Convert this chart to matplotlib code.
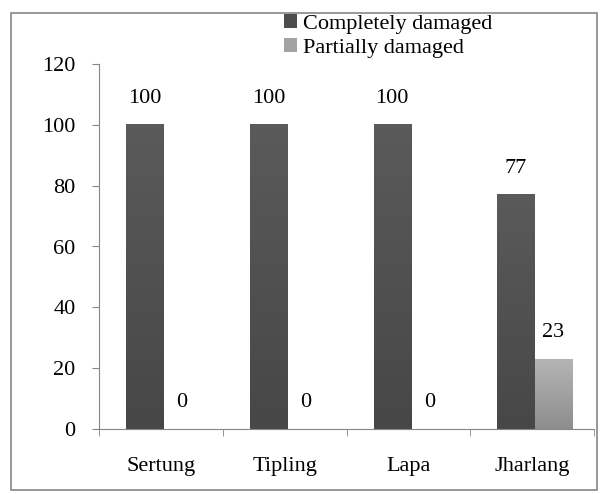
import numpy as np
import matplotlib.pyplot as plt
from matplotlib.patches import Rectangle

plt.rcParams['font.family'] = ['Liberation Serif', 'DejaVu Serif']

# data
villages = ["Sertung", "Tipling", "Lapa", "Jharlang"]
completely = [100, 100, 100, 77]
partially = [0, 0, 0, 23]
yticks = [0, 20, 40, 60, 80, 100, 120]

axis_grey = "#868686"
fs = 16

fig = plt.figure(figsize=(6.02, 4.94), dpi=100)
ax = fig.add_axes([99 / 602, 65 / 494, 495 / 602, 365 / 494])

x = np.arange(len(villages))
w = 0.3
b1 = ax.bar(x - w / 2 + 0.02, completely, w, color="#4d4d4d", label="Completely damaged")
b2 = ax.bar(x + w / 2 + 0.02, partially, w, color="#a3a3a3", label="Partially damaged")

# vertical gradient on the bars (Excel look)
def shade(bars, top, bottom):
    grad = np.linspace(0, 1, 64).reshape(-1, 1)
    cmap = plt.matplotlib.colors.LinearSegmentedColormap.from_list("g", [bottom, top])
    for bar in bars:
        h = bar.get_height()
        if h <= 0:
            continue
        bx = bar.get_x()
        ax.imshow(grad, cmap=cmap, aspect="auto", origin="lower",
                  extent=(bx, bx + bar.get_width(), 0, h), zorder=2)

shade(b1, "#5a5a5a", "#474747")
shade(b2, "#b4b4b4", "#8e8e8e")

for bars, vals in ((b1, completely), (b2, partially)):
    for bar, v in zip(bars, vals):
        ax.annotate(str(v), (bar.get_x() + bar.get_width() / 2, v),
                    xytext=(0, 12), textcoords="offset points",
                    ha="center", va="bottom", fontsize=fs)

ax.set_xlim(-0.5, len(villages) - 0.5)
ax.set_ylim(0, 120)
ax.set_yticks(yticks)
ax.set_xticks(x)
ax.set_xticklabels(villages)
ax.set_xticks(np.arange(len(villages) + 1) - 0.5, minor=True)
ax.tick_params(axis="x", which="major", length=0, pad=20, labelsize=fs)
ax.tick_params(axis="x", which="minor", length=5, color=axis_grey, direction="out")
ax.tick_params(axis="y", length=5, color=axis_grey, labelsize=fs, pad=12)

for s in ("top", "right"):
    ax.spines[s].set_visible(False)
for s in ("left", "bottom"):
    ax.spines[s].set_color(axis_grey)

leg = ax.legend(loc="upper left", bbox_to_anchor=(185 / 495, 1 + 50 / 365), frameon=False,
                fontsize=fs, handlelength=0.6, handleheight=0.6,
                handletextpad=0.25, labelspacing=0.2, borderaxespad=0, borderpad=0)

# chart area border
fig.patches.append(Rectangle((11 / 602, 4 / 494), 586 / 602, 477 / 494,
                             transform=fig.transFigure, fill=False,
                             edgecolor=axis_grey, linewidth=1.2))

fig.savefig("out.png", dpi=100)
